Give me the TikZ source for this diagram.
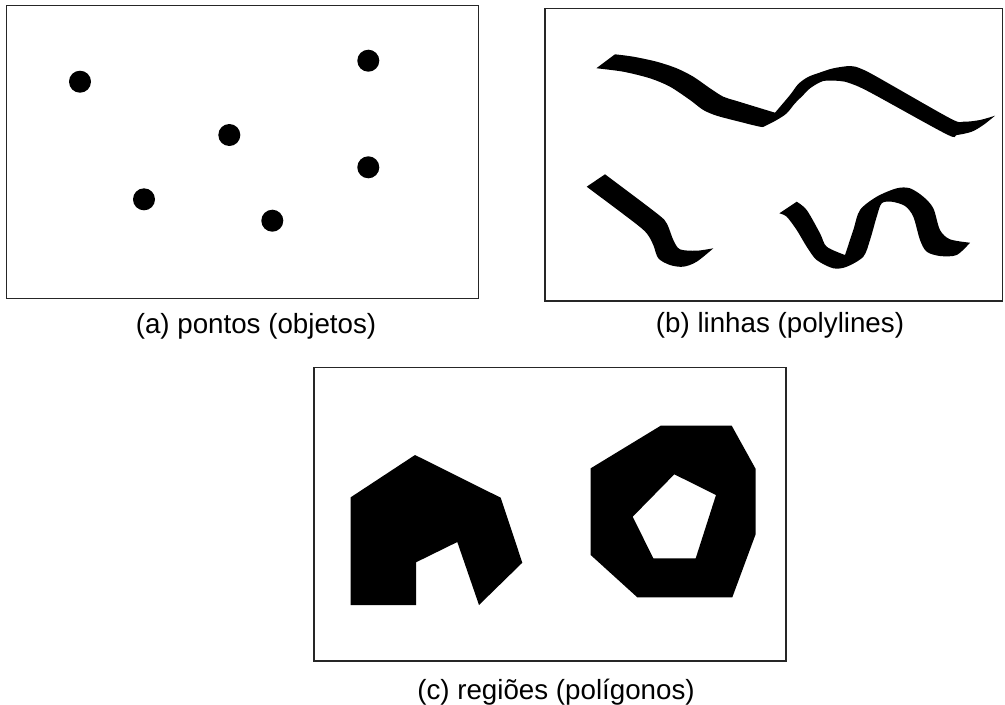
\documentclass[tikz,border=0pt]{standalone}
\usepackage{fontspec}
\setmainfont{Liberation Sans}
\begin{document}
\begin{tikzpicture}[x=0.75pt,y=-0.75pt,
  frame/.style={draw=black!85,line width=1pt},
  dot/.style={fill=black},
  lbl/.style={inner sep=0pt,anchor=base,font=\fontsize{20.8pt}{24pt}\selectfont},
  sm/.style={smooth,tension=0.5}]
\useasboundingbox[fill=white] (0,0) rectangle (1005,704);
% frames
\draw[frame] (6.7,5.7) rectangle (478.3,298.3);
\draw[frame] (545,8.3) rectangle (1002.5,301);
\draw[frame] (314,367.7) rectangle (786,661);
% (a) points
\foreach \p in {(80,81.7),(368.3,60.7),(229.3,135),(368.3,167.3),(144,199.3),(272.3,220.7)}
  \fill[dot] \p circle[radius=8.25pt];
% (b) top ribbon
\fill (596.7,68) -- (615,54.3)
  -- plot[sm] coordinates {(615,54.3) (633.3,56.7) (656.7,61.7) (676.7,68.3) (693.3,76.7) (710,88.3) (723.3,96.7) (736.7,101) (775,112.7)}
  -- plot[sm] coordinates {(775,112.7) (790,95) (798.3,84) (808,77) (820,72.5) (833.3,68.3) (850,66) (860,68.3) (876.7,76.7) (950,118.3) (963.3,121.7) (980,120) (995,115.7)}
  -- plot[sm] coordinates {(995,115.7) (983.3,125) (971.7,131.7) (956.7,135) (946.7,134.3) (870,92.3) (850,83.3) (840,81) (823.3,81) (810,88.3) (803.3,95) (795,103.3) (786.7,113.3) (776.7,120) (765,126) (760,126.7) (736.7,121) (716.7,115.7) (703.3,110) (690,100) (670,86.7) (650,78.3) (623.3,71.7) (596.7,68.3)}
  -- cycle;
% (b) lower left ribbon
\fill (586.7,186.7) -- (605,174.3)
  -- plot[sm] coordinates {(605,174.3) (656.7,213.3) (666.7,223.3) (673.3,240) (680,249.3) (696.7,250.7) (713.3,248.3)}
  -- plot[sm] coordinates {(713.3,248.3) (696.7,261.7) (683.3,266.7) (670,265) (658.3,258.3) (653.3,245) (646.7,233.3) (633.3,221.7) (586.7,186.7)}
  -- cycle;
% (b) lower right ribbon
\fill (779.3,213.3) -- (796.7,201.7)
  -- plot[sm] coordinates {(796.7,201.7) (806.7,210) (820,233.3) (826.7,246.7) (845,255)}
  -- plot[sm] coordinates {(845,255) (853.3,230) (860,210) (876.7,196.7) (896.7,188.3) (910,188.3) (923.3,196.7) (933.3,208.3) (940,230) (950,239.3) (970,242.7)}
  -- plot[sm] coordinates {(970,242.7) (956.7,255) (940,256) (926.7,251.7) (920,240) (913.3,216.7) (905,206) (891.7,201.7) (881.7,203.3) (876.7,216.7) (870,240) (863.3,256.7) (846.7,266.7) (833.3,268.3) (816.7,260) (806.7,246.7) (796.7,230) (786.7,216.7) (779.3,213.3)}
  -- cycle;
% (c) regions
\fill (350.7,497.3) -- (415,455) -- (500.7,497.7) -- (522.3,562.7) -- (479,605) -- (457.3,542) -- (416,562.3) -- (416,605) -- (350.7,605) -- cycle;
\fill[even odd rule] (590.7,468.3) -- (660.7,425.7) -- (731.7,425.7) -- (755.7,469) -- (755.7,534) -- (732.3,597.3) -- (637.3,597.3) -- (590.7,555) -- cycle
  (674.3,474.3) -- (716,495) -- (695.7,558.3) -- (653.3,558.3) -- (632.7,516.7) -- cycle;
% labels
\node[lbl] (la) at (256,333.3) {(a) pontos (objetos)};
\node[lbl] (lb) at (780,332.5) {(b) linhas (polylines)};
\node[lbl] (lc) at (556,699.5) {(c) regiões (polígonos)};
\end{tikzpicture}
\end{document}
